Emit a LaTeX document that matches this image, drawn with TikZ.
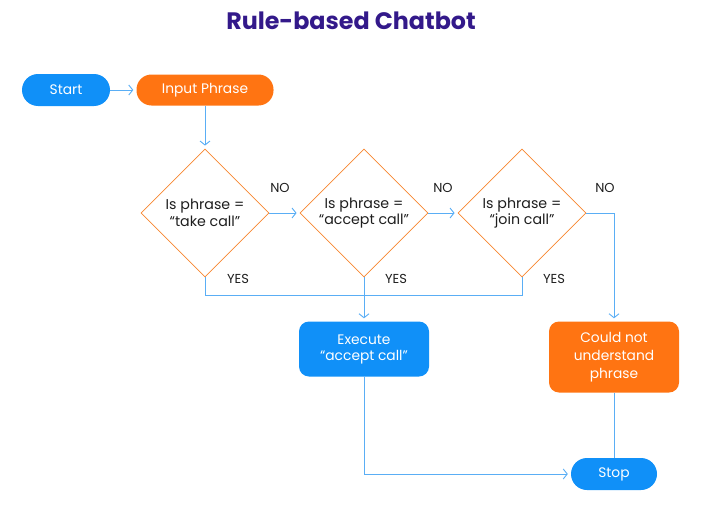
\documentclass[tikz,border=0pt]{standalone}
\usepackage{fontspec}
\setmainfont{Poppins}
\usetikzlibrary{arrows.meta,shapes.geometric,positioning}
\definecolor{titlepurple}{HTML}{33198A}
\definecolor{boxblue}{HTML}{1090F8}
\definecolor{boxorange}{HTML}{FF7412}
\definecolor{lineblue}{HTML}{5AAEF5}
\definecolor{edgeorange}{HTML}{F7862E}
\definecolor{labelgray}{HTML}{1E1E1E}

\tikzset{
    terminal/.style={rounded corners=16pt, fill=boxblue, text=white, minimum height=32pt, font=\fontsize{13.8}{16}\selectfont},
    process/.style={rounded corners=10pt, fill=#1, text=white, minimum width=130pt, align=center, font=\fontsize{13.8}{17}\selectfont},
    decision/.style={diamond, draw=edgeorange, line width=0.8pt, minimum width=128pt, minimum height=128pt, inner sep=-6pt, align=center, text=labelgray, font=\fontsize{14.2}{16.5}\selectfont},
    yesno/.style={text=labelgray, anchor=center, font=\fontsize{13}{15}\selectfont},
    flow/.style={draw=lineblue, line width=0.9pt}
}

\begin{document}
\begin{tikzpicture}[x=1pt,y=-1pt,shorten >=3pt,node distance=2cm,on grid,>={Straight Barb[length=4pt,width=10pt]}]
        \useasboundingbox (0,0) rectangle (701,506);

        \node[font=\bfseries\fontsize{23.8}{28}\selectfont, text=titlepurple] (title) at (351,21) {Rule-based Chatbot};

        \node[terminal, minimum width=88pt] (start) at (66,90) {Start};
        \node[process=boxorange, rounded corners=15pt, minimum width=137pt, minimum height=31pt] (input) [right=139pt of start] {Input Phrase};

        \node[decision] (d_1) [below=123pt of input] {Is phrase =\\“take call”};
        \node[decision] (d_2) [right=159pt of d_1] {Is phrase =\\“accept call”};
        \node[decision] (d_3) [right=158pt of d_2] {Is phrase =\\“join call”};

        \node[process=boxblue, minimum height=55pt, font=\fontsize{13.8}{16}\selectfont] (exec) [below=136pt of d_2] {Execute\\“accept call”};
        \node[process=boxorange, minimum height=71pt, font=\fontsize{13.8}{18}\selectfont] (fail) at (614,357) {Could not\\understand\\phrase};
        \node[terminal, minimum width=86pt] (stop) [below=117pt of fail] {Stop};

        \coordinate[below=18pt of d_2.south] (merge);

        \node[yesno] (no_1) at (280,188) {NO};
        \node[yesno] (no_2) at (443,188) {NO};
        \node[yesno] (no_3) at (605,188) {NO};
        \node[yesno] (yes_1) at (238,279) {YES};
        \node[yesno] (yes_2) at (396,279) {YES};
        \node[yesno] (yes_3) at (554,279) {YES};

        \path[flow,->]
        (start) edge (input)
        (input) edge (d_1)
        (d_1) edge (d_2)
        (d_2) edge (d_3);

        \draw[flow,->] (d_2.south) -- (exec.north);
        \draw[flow,->] (d_3.east) -| (fail.north);
        \draw[flow,->] (exec.south) |- (stop.west);
        \draw[flow,shorten >=0pt] (d_1.south) |- (merge) -| (d_3.south);
        \draw[flow,shorten >=0pt] (fail.south) -- (stop.north);

    \end{tikzpicture}
\end{document}
